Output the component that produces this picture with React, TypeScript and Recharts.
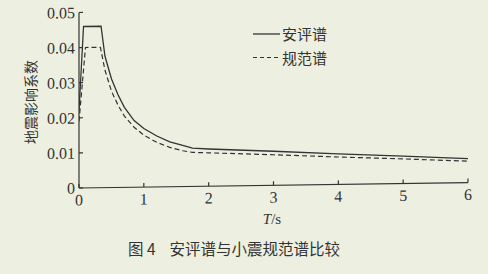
import { LineChart, Line, XAxis, YAxis } from "recharts";

// Scanned figure: 安评谱 (site-specific spectrum) vs 小震规范谱 (code spectrum).
// Values; the scan's baseline tilts up to the right, so the
// plot is skewed a little to follow it.

const AP_PERIODS = [0, 0.07, 0.34, 0.4, 0.5, 0.6, 0.7, 0.85, 1.0, 1.2, 1.4, 1.6, 1.75, 2, 3, 4, 5, 6];
const AP_VALUES = [0.022, 0.046, 0.046, 0.0375, 0.031, 0.0265, 0.0228, 0.019, 0.0167, 0.0145, 0.0128, 0.0117, 0.0109, 0.0106, 0.0097, 0.0087, 0.0078, 0.0068];

const GF_PERIODS = [0, 0.1, 0.33, 0.4, 0.5, 0.6, 0.7, 0.85, 1.0, 1.2, 1.4, 1.6, 1.75, 2, 3, 4, 5, 6];
const GF_VALUES = [0.019, 0.04, 0.04, 0.0335, 0.0275, 0.0235, 0.0203, 0.0171, 0.0148, 0.0127, 0.0112, 0.0102, 0.0097, 0.0095, 0.0087, 0.0078, 0.007, 0.0061];

const X_TICKS = [0, 1, 2, 3, 4, 5, 6];
const Y_TICKS = [0, 0.01, 0.02, 0.03, 0.04, 0.05];

const INK = "#333";
const PAPER = "#edf0e1";
const SERIF = "'Liberation Serif', 'DejaVu Serif', serif";
const CJK = "'Noto Sans CJK SC', sans-serif";

const apData = AP_PERIODS.map((t, i) => ({ t, v: AP_VALUES[i] }));
const gfData = GF_PERIODS.map((t, i) => ({ t, v: GF_VALUES[i] }));

const fmtY = (v: number) => (v === 0 ? "0" : v.toFixed(2));

export default function App() {
  return (
    <div style={{ position: "fixed", left: 0, top: 0, width: 488, height: 274, background: PAPER, overflow: "hidden" }}>
      <div style={{ position: "absolute", left: 0, top: 0, transform: "skewY(-0.8deg)", transformOrigin: "79px 188px" }}>
        <LineChart width={488} height={274} margin={{ top: 12.5, right: 20, bottom: 56, left: 0 }}>
          <XAxis
            dataKey="t"
            type="number"
            domain={[0, 6]}
            ticks={X_TICKS}
            allowDataOverflow
            height={30}
            tickSize={-4}
            tickMargin={10}
            stroke={INK}
            strokeWidth={1.2}
            tick={{ fontFamily: SERIF, fontSize: 16, fill: INK }}
          />
          <YAxis
            type="number"
            domain={[0, 0.05]}
            ticks={Y_TICKS}
            width={79}
            tickSize={-4}
            tickMargin={8}
            tickFormatter={fmtY}
            stroke={INK}
            strokeWidth={1.2}
            tick={{ fontFamily: SERIF, fontSize: 16, fill: INK }}
          />
          <Line data={apData} dataKey="v" type="linear" stroke={INK} strokeWidth={1.3} dot={false} isAnimationActive={false} />
          <Line data={gfData} dataKey="v" type="linear" stroke={INK} strokeWidth={1.2} strokeDasharray="5 3" dot={false} isAnimationActive={false} />
        </LineChart>
      </div>

      {/* y-axis title */}
      <div
        style={{
          position: "absolute", left: 30, top: 102, transform: "translate(-50%, -50%) rotate(-90deg)",
          fontFamily: CJK, fontSize: 14, color: INK, whiteSpace: "nowrap", lineHeight: 1,
        }}
      >
        地震影响系数
      </div>

      {/* legend */}
      <svg style={{ position: "absolute", left: 0, top: 0 }} width={488} height={274}>
        <line x1={253} x2={280} y1={34} y2={34} stroke={INK} strokeWidth={1.3} />
        <line x1={253} x2={280} y1={57.5} y2={57.5} stroke={INK} strokeWidth={1.2} strokeDasharray="4 3" />
      </svg>
      <div style={{ position: "absolute", left: 282, top: 25, fontFamily: CJK, fontSize: 15, color: INK, lineHeight: "18px" }}>安评谱</div>
      <div style={{ position: "absolute", left: 282, top: 48.5, fontFamily: CJK, fontSize: 15, color: INK, lineHeight: "18px" }}>规范谱</div>

      {/* x-axis title */}
      <div style={{ position: "absolute", left: 272, top: 219, transform: "translate(-50%, -50%)", fontFamily: SERIF, fontSize: 15, color: INK, whiteSpace: "nowrap" }}>
        <i>T</i>/s
      </div>

      {/* caption */}
      <div style={{ position: "absolute", left: 128, top: 239, fontFamily: CJK, fontSize: 15.5, color: INK, whiteSpace: "nowrap", lineHeight: "18px" }}>
        图 4<span style={{ display: "inline-block", width: 14 }} />安评谱与小震规范谱比较
      </div>
    </div>
  );
}
